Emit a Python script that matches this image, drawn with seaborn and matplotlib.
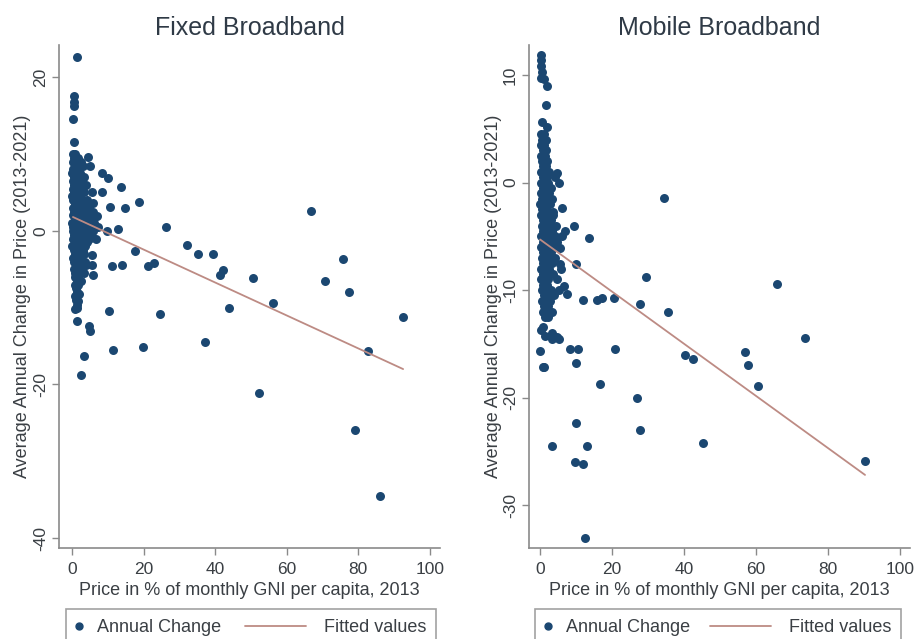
import matplotlib
matplotlib.use("Agg")
import matplotlib.pyplot as plt
from matplotlib.lines import Line2D
from matplotlib.legend_handler import HandlerBase
import seaborn as sns
import pandas as pd

# ---------------- data ----------------
# Fixed broadband: (price % of monthly GNI pc 2013, avg annual change 2013-2021)
fixed_points = [
    (1.3, 22.6), (0.6, 17.5), (0.5, 16.8), (0.6, 16.2), (0.4, 14.6), (0.6, 11.6),
    (0.3, 10.0), (1.0, 10.0), (0.5, 9.5), (1.8, 9.5), (4.6, 9.6), (0.2, 9.0), (1.2, 9.0), (2.5, 9.0),
    (0.8, 8.5), (3.0, 8.5), (5.1, 8.4), (0.4, 8.0), (1.5, 8.0), (0.1, 7.5), (0.9, 7.5), (2.2, 7.5),
    (0.6, 7.0), (1.7, 7.0), (3.4, 7.0), (0.3, 6.5), (1.1, 6.5), (2.6, 6.5), (0.7, 6.0), (1.9, 6.0),
    (4.0, 6.0), (0.2, 5.5), (1.3, 5.5), (2.9, 5.5), (0.5, 5.0), (1.6, 5.0), (3.3, 5.0), (5.5, 5.0),
    (0.1, 4.5), (0.9, 4.5), (2.1, 4.5), (0.4, 4.0), (1.4, 4.0), (2.7, 4.0), (4.2, 4.0), (0.8, 3.5),
    (1.8, 3.5), (3.6, 3.5), (0.2, 3.0), (1.1, 3.0), (2.4, 3.0), (4.8, 3.0), (0.6, 2.5), (1.5, 2.5),
    (3.1, 2.5), (5.8, 2.5), (0.3, 2.0), (1.2, 2.0), (2.2, 2.0), (4.4, 2.0), (6.9, 1.9), (0.9, 1.5),
    (1.9, 1.5), (3.0, 1.5), (5.2, 1.5), (0.1, 1.0), (0.7, 1.0), (1.6, 1.0), (2.6, 1.0), (4.0, 1.0),
    (6.3, 1.0), (0.4, 0.5), (1.3, 0.5), (2.3, 0.5), (3.5, 0.5), (5.0, 0.5), (7.2, 0.5), (0.2, 0.0),
    (0.9, 0.0), (1.8, 0.0), (2.9, 0.0), (4.5, 0.0), (6.0, 0.0), (0.6, -0.5), (1.5, -0.5), (2.5, -0.5),
    (3.8, -0.5), (5.4, -0.5), (0.3, -1.0), (1.1, -1.0), (2.0, -1.0), (3.2, -1.0), (4.8, -1.0),
    (6.6, -1.0), (0.8, -1.5), (1.7, -1.5), (2.8, -1.5), (4.2, -1.5), (0.1, -2.0), (1.3, -2.0),
    (2.4, -2.0), (3.6, -2.0), (0.5, -2.5), (1.9, -2.5), (3.0, -2.5), (0.9, -3.0), (2.2, -3.0),
    (3.3, -3.0), (5.5, -3.2), (0.4, -3.5), (1.5, -3.5), (2.6, -3.5), (0.7, -4.0), (1.8, -4.0),
    (3.6, -4.0), (1.2, -4.5), (2.3, -4.5), (4.0, -4.5), (5.6, -4.5), (0.6, -5.0), (1.6, -5.0),
    (2.8, -5.0), (1.0, -5.5), (2.0, -5.5), (3.4, -5.5), (6.0, -5.8), (0.8, -6.0), (1.7, -6.0),
    (1.3, -6.6), (2.5, -6.5), (0.9, -7.0), (1.8, -7.0), (1.2, -7.5), (1.4, -8.0), (1.9, -8.2),
    (1.0, -8.5), (1.2, -9.0), (1.6, -9.2), (1.3, -9.6), (0.9, -10.2), (1.5, -10.0),
    (8.3, 7.5), (10.1, 6.9), (13.6, 5.7), (8.3, 5.1), (6.0, 3.6), (18.7, 3.7), (10.6, 3.1),
    (14.7, 3.0), (66.7, 2.6), (26.2, 0.5), (9.7, 0.0), (12.9, 0.2), (17.6, -2.6), (32.2, -1.8),
    (35.3, -3.0), (39.5, -3.0), (75.8, -3.7), (11.1, -4.6), (13.9, -4.5), (21.3, -4.6),
    (22.8, -4.2), (41.3, -5.7), (42.1, -5.1), (50.6, -6.1), (70.7, -6.5), (77.4, -7.9),
    (56.2, -9.4), (43.8, -10.1), (10.5, -10.5), (24.6, -10.8), (92.5, -11.2), (1.3, -11.8),
    (4.9, -12.4), (5.1, -13.1), (37.2, -14.5), (11.5, -15.5), (19.9, -15.1), (82.6, -15.7),
    (3.5, -16.3), (2.5, -18.8), (52.2, -21.1), (79.2, -25.9), (86.0, -34.5),
]

# Mobile broadband
mobile_points = [
    (0.2, 11.9), (0.3, 11.4), (0.1, 10.8), (0.4, 10.3), (0.2, 9.7), (1.0, 9.6), (1.8, 9.0),
    (1.6, 7.2), (0.4, 5.6), (1.9, 5.2), (0.3, 4.5), (1.2, 4.5), (0.6, 4.0), (1.5, 4.0), (0.2, 3.5),
    (1.0, 3.5), (0.8, 3.0), (1.7, 3.0), (0.1, 2.5), (1.3, 2.5), (0.5, 2.0), (2.0, 2.0), (0.9, 1.5),
    (1.6, 1.5), (0.2, 1.0), (1.2, 1.0), (2.4, 1.0), (4.6, 0.9), (0.7, 0.5), (1.8, 0.5), (4.0, 0.5),
    (0.3, 0.0), (1.1, 0.0), (2.2, 0.0), (5.1, 0.0), (0.8, -0.5), (1.6, -0.5), (3.0, -0.5),
    (0.1, -1.0), (1.2, -1.0), (2.4, -1.0), (0.6, -1.5), (1.9, -1.5), (3.4, -1.5), (0.0, -2.0),
    (1.0, -2.0), (2.7, -2.0), (0.5, -2.5), (1.5, -2.5), (3.5, -2.7), (6.0, -2.4), (0.2, -3.0),
    (1.2, -3.0), (2.3, -3.0), (3.7, -3.0), (0.8, -3.5), (1.8, -3.5), (3.0, -3.5), (0.4, -4.0),
    (1.4, -4.0), (2.6, -4.0), (4.4, -4.0), (0.9, -4.5), (2.0, -4.5), (3.3, -4.5), (6.9, -4.5),
    (0.2, -5.0), (1.3, -5.0), (2.5, -5.0), (4.1, -5.0), (6.0, -5.0), (0.7, -5.5), (1.7, -5.5),
    (2.9, -5.5), (4.8, -5.5), (0.3, -6.0), (1.1, -6.0), (2.2, -6.0), (3.6, -6.0), (5.6, -6.1),
    (0.8, -6.5), (1.9, -6.5), (3.0, -6.5), (0.4, -7.0), (1.4, -7.0), (2.6, -7.0), (4.2, -7.0),
    (0.9, -7.5), (2.0, -7.5), (3.2, -7.5), (5.6, -7.6), (0.2, -8.0), (1.2, -8.0), (2.4, -8.0),
    (5.9, -8.0), (0.7, -8.5), (1.6, -8.5), (3.5, -8.5), (0.3, -9.0), (1.1, -9.0), (2.2, -9.0),
    (4.6, -9.0), (0.8, -9.5), (1.9, -9.5), (6.5, -9.6), (0.4, -10.0), (1.4, -10.0), (3.0, -10.0),
    (5.2, -10.0), (1.0, -10.5), (2.1, -10.5), (3.8, -10.5), (0.6, -11.0), (1.6, -11.0),
    (2.8, -11.0), (1.1, -11.5), (2.3, -11.5), (0.8, -12.0), (1.8, -12.0), (3.2, -12.0),
    (1.3, -12.5), (2.2, -12.5), (0.9, -13.4), (0.1, -13.7), (3.2, -14.0), (1.4, -14.3),
    (3.2, -14.6), (5.1, -14.6), (4.6, -14.4), (0.0, -15.7), (0.8, -17.2), (1.2, -17.2),
    (34.4, -1.4), (9.3, -4.0), (13.5, -5.2), (9.9, -7.6), (29.4, -8.8), (65.7, -9.4),
    (7.4, -10.4), (12.0, -10.9), (15.7, -10.9), (17.2, -10.7), (20.6, -10.7), (27.8, -11.3),
    (35.4, -12.0), (8.3, -15.5), (10.6, -15.5), (20.8, -15.5), (73.6, -14.5), (40.3, -16.0),
    (42.6, -16.4), (56.8, -15.8), (57.9, -17.0), (60.6, -18.9), (10.0, -16.8), (16.5, -18.7),
    (26.9, -20.0), (10.0, -22.4), (27.8, -23.0), (3.2, -24.5), (13.0, -24.5), (45.2, -24.2),
    (9.7, -26.0), (12.0, -26.2), (90.3, -25.9), (12.5, -33.1),
]

# Fitted values (end points of the fitted line)
fixed_fit_x = [0.3, 92.5]
fixed_fit_y = [1.8, -18.0]
mobile_fit_x = [0.0, 90.3]
mobile_fit_y = [-5.3, -27.2]

titles = ["Fixed Broadband", "Mobile Broadband"]
x_label = "Price in % of monthly GNI per capita, 2013"
y_label = "Average Annual Change in Price (2013-2021)"
x_ticks = [0, 20, 40, 60, 80, 100]
fixed_y_ticks = [-40, -20, 0, 20]
mobile_y_ticks = [-30, -20, -10, 0, 10]
legend_labels = ["Annual Change", "Fitted values"]

# ---------------- style ----------------
sns.set_theme(style="white")
plt.rcParams["font.family"] = ["Liberation Sans", "DejaVu Sans"]
plt.rcParams["axes.unicode_minus"] = False

NAVY = "#1b4771"
FIT = "#bd8b84"
SPINE = "#8a8a8a"
TEXT = "#3a3f44"
TITLE = "#2f3a46"
FS = 13

fig = plt.figure(figsize=(9.14, 6.39), dpi=100)
W, H = 914, 639
axes_px = [(59, 440), (529, 910)]
legend_px = [(66, 436), (535, 901)]
top_px, bot_px = 45, 548

panels = [
    (fixed_points, fixed_fit_x, fixed_fit_y, fixed_y_ticks, (-3.6, 102.8), (-41.3, 24.2)),
    (mobile_points, mobile_fit_x, mobile_fit_y, mobile_y_ticks, (-3.1, 102.8), (-34.0, 12.8)),
]


class LongLineHandler(HandlerBase):
    def create_artists(self, legend, orig_handle, xdescent, ydescent, width, height,
                       fontsize, trans):
        ext = 3.2 * fontsize
        y = height / 2 - ydescent
        ln = Line2D([-xdescent - ext, -xdescent + width - 2], [y, y],
                    color=orig_handle.get_color(), lw=orig_handle.get_linewidth())
        ln.set_transform(trans)
        return [ln]


for i, (pts, fx, fy, yt, xl, yl) in enumerate(panels):
    x0, x1 = axes_px[i]
    ax = fig.add_axes([x0 / W, 1 - bot_px / H, (x1 - x0) / W, (bot_px - top_px) / H])
    df = pd.DataFrame(pts, columns=["price", "change"])
    fit = pd.DataFrame({"price": fx, "fitted": fy})
    sns.scatterplot(data=df, x="price", y="change", ax=ax, color=NAVY, s=42,
                    linewidth=0, alpha=1, zorder=3, legend=False)
    sns.lineplot(data=fit, x="price", y="fitted", ax=ax, color=FIT, lw=1.3,
                 zorder=4, legend=False)
    ax.set_xlim(*xl)
    ax.set_ylim(*yl)
    ax.set_xticks(x_ticks)
    ax.set_yticks(yt)
    for s in ["top", "right"]:
        ax.spines[s].set_visible(False)
    for s in ["left", "bottom"]:
        ax.spines[s].set_color(SPINE)
        ax.spines[s].set_linewidth(1.2)
    ax.tick_params(axis="both", direction="out", length=5, width=1, color=SPINE,
                   labelsize=12.5, labelcolor=TEXT, left=True, bottom=True)
    ax.tick_params(axis="x", pad=5)
    ax.tick_params(axis="y", pad=3)
    for lbl in ax.get_yticklabels():
        lbl.set_rotation(90)
        lbl.set_va("center")
    ax.set_xlabel(x_label, fontsize=FS, color=TEXT, labelpad=4)
    ax.set_ylabel(y_label, fontsize=FS, color=TEXT, labelpad=1)
    ax.set_title(titles[i], fontsize=18, color=TITLE, pad=7)

    handles = [
        Line2D([], [], marker="o", ls="", color=NAVY, markersize=5),
        Line2D([], [], color=FIT, lw=1.3),
    ]
    l0, l1 = legend_px[i]
    leg = ax.legend(handles, legend_labels, ncol=2, loc="upper left",
                    bbox_to_anchor=(l0 / W, 1 - 609 / H, (l1 - l0) / W, 0),
                    bbox_transform=fig.transFigure,
                    mode="expand", frameon=True, fancybox=False, fontsize=FS,
                    handlelength=0.3, handletextpad=0.85, borderpad=0.55, borderaxespad=0,
                    handler_map={handles[1]: LongLineHandler()})
    leg.get_frame().set_edgecolor(SPINE)
    leg.get_frame().set_linewidth(1.2)
    for t in leg.get_texts():
        t.set_color(TEXT)

fig.savefig("out.png", dpi=100, facecolor="white")
